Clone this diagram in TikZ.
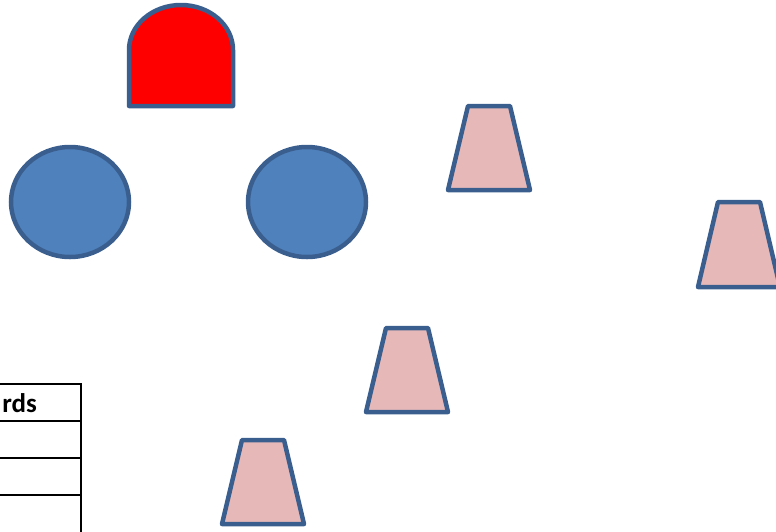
\documentclass[tikz,border=0pt]{standalone}
\usepackage{fontspec}
\setmainfont{Carlito}
\usetikzlibrary{positioning, shapes.geometric}
\definecolor{edgeblue}{HTML}{3A5F8F}
\definecolor{ballblue}{HTML}{4F81BD}
\definecolor{conepink}{HTML}{E6B9B8}

\begin{document}
\begin{tikzpicture}[
    x=1pt, y=-1pt,
    ball/.style={ellipse, draw=edgeblue, fill=ballblue, line width=4.5pt, minimum width=118pt, minimum height=110pt, inner sep=0pt},
    cone/.style={draw=edgeblue, fill=conepink, line width=4.5pt, line join=round},
    goal/.style={draw=edgeblue, fill=red, line width=4.5pt, line join=round},
    grid/.style={draw=black, line width=2pt}
]
  \useasboundingbox (0,0) rectangle (776,531);
  \clip (0,0) rectangle (776,531);

  % --- RED GOAL ---
  \draw[goal] (129,106) -- (129,50) arc[start angle=180, end angle=0, x radius=52, y radius=-45] -- (233,106) -- cycle;

  % --- BALLS ---
  \node[ball] (ballA) at (70,202) {};
  \node[ball] (ballB) at (307,202) {};

  % --- CONES ---
  \draw[cone] (468,106) -- ++(42,0) -- ++(20,84) -- ++(-82,0) -- cycle;
  \draw[cone] (718,202) -- ++(42,0) -- ++(20,85) -- ++(-82,0) -- cycle;
  \draw[cone] (386,328) -- ++(42,0) -- ++(20,84) -- ++(-82,0) -- cycle;
  \draw[cone] (242,440) -- ++(42,0) -- ++(20,84) -- ++(-82,0) -- cycle;

  % --- TABLE ---
  \draw[grid] (-10,384) -- (81,384) -- (81,540);
  \draw[grid] (-10,421) -- (81,421);
  \draw[grid] (-10,458) -- (81,458);
  \draw[grid] (-10,495) -- (81,495);
  \node[anchor=base east, inner sep=0pt, font=\fontsize{27}{30}\selectfont\bfseries] (head) at (37,412) {rds};
\end{tikzpicture}
\end{document}
